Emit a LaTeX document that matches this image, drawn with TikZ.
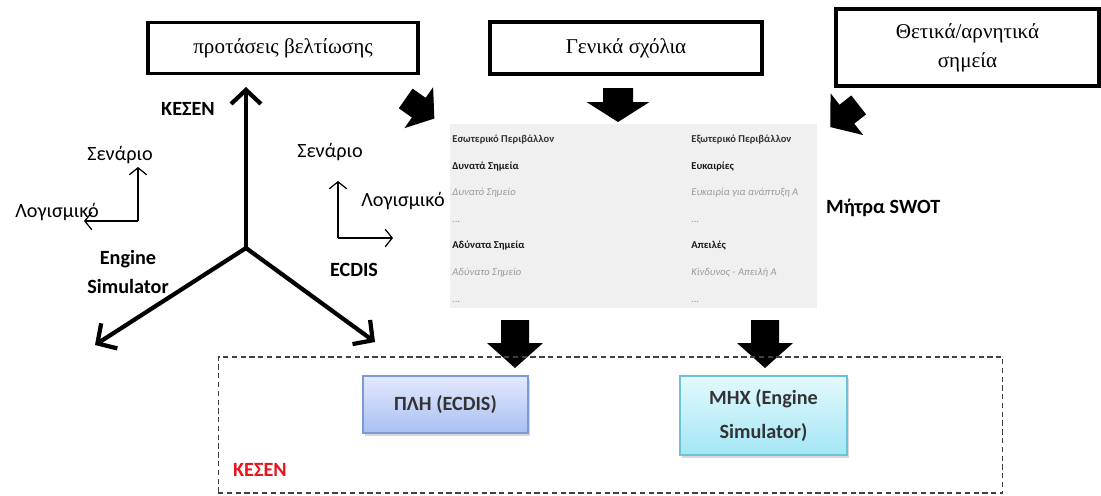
\documentclass[tikz,border=0pt]{standalone}
\usepackage{fontspec}
\setmainfont{Liberation Serif}
\newfontfamily\carlito{Carlito}
\usepackage{xcolor}
\usetikzlibrary{arrows.meta,shadows}

\definecolor{plhtop}{HTML}{E2E9FC}
\definecolor{plhbot}{HTML}{A9C0F2}
\definecolor{plhline}{HTML}{7D9AD6}
\definecolor{mhxtop}{HTML}{E3F9FD}
\definecolor{mhxbot}{HTML}{A3E6F4}
\definecolor{mhxline}{HTML}{6CC3D8}
\definecolor{kesenred}{HTML}{E8131B}

% fat arrow: centre, angle, length, shaft, head width, head length
\newcommand{\blockarrow}[6]{%
	\fill[black, shift={(#1)}, rotate=#2]
		(-#3/2,-#4/2) -- (#3/2-#6,-#4/2) -- (#3/2-#6,-#5/2) -- (#3/2,0)
		-- (#3/2-#6,#5/2) -- (#3/2-#6,#4/2) -- (-#3/2,#4/2) -- cycle;
}

\tikzset{
	topbox/.style = {draw, line width=1.8pt, align=center, font=\fontsize{12}{16.5}\selectfont},
	lbl/.style = {font=\carlito\fontsize{11.5}{13}\selectfont, inner sep=1pt},
	blbl/.style = {font=\carlito\bfseries\fontsize{11.5}{17}\selectfont, inner sep=1pt, align=center},
	bigaxis/.style = {line width=2.4pt, -{Straight Barb[length=8pt,width=17pt]}},
	smallaxis/.style = {line width=0.7pt, -{Straight Barb[length=4pt,width=10pt]}},
	swothead/.style = {anchor=west, inner sep=0pt, text=black!80, font=\carlito\bfseries\fontsize{6}{7}\selectfont},
	swotitem/.style = {anchor=west, inner sep=0pt, text=black!40, font=\carlito\itshape\fontsize{6}{7}\selectfont},
	unitbox/.style = {draw, line width=0.8pt, align=center, font=\carlito\bfseries\fontsize{11.5}{19}\selectfont, text=black!80,
		drop shadow={shadow xshift=1pt, shadow yshift=-1.5pt, opacity=0.3}},
}

\begin{document}
\begin{tikzpicture}[x=0.02cm, y=-0.02cm]
	\useasboundingbox (0,0) rectangle (1101,495);

	% top boxes
	\node[topbox, minimum width=5.4cm, minimum height=1.02cm] (improve) at (283,48) {προτάσεις βελτίωσης};
	\node[topbox, minimum width=5.44cm, minimum height=1.04cm] (general) at (626,48) {Γενικά σχόλια};
	\node[topbox, minimum width=5.26cm, minimum height=1.54cm] (posneg) at (967.5,47.5) {Θετικά/αρνητικά\\σημεία};

	% three axes
	\coordinate (origin) at (246,248);
	\coordinate (kesentip) at (246,87);
	\coordinate (enginetip) at (95,345);
	\coordinate (ecdistip) at (375,342);
	\draw[bigaxis] (origin) -- (kesentip);
	\draw[bigaxis] (origin) -- (enginetip);
	\draw[bigaxis] (origin) -- (ecdistip);
	\node[blbl] (kesen) at (188,109) {ΚΕΣΕΝ};
	\node[blbl] (engine) at (128,272) {Engine\\Simulator};
	\node[blbl] (ecdis) at (354,270) {ECDIS};

	% small axes, left
	\coordinate (lc) at (138,221);
	\coordinate (lcup) at (138,167);
	\coordinate (lcleft) at (84,221);
	\draw[smallaxis] (lc) -- (lcup);
	\draw[smallaxis] (lc) -- (lcleft);
	\node[lbl] (scenleft) at (120,155) {Σενάριο};
	\node[lbl] (softleft) at (57,212) {Λογισμικό};

	% small axes, right
	\coordinate (rc) at (338,238);
	\coordinate (rcup) at (338,181);
	\coordinate (rcright) at (393,238);
	\draw[smallaxis] (rc) -- (rcup);
	\draw[smallaxis] (rc) -- (rcright);
	\node[lbl] (scenright) at (330,152) {Σενάριο};
	\node[lbl] (softright) at (403,201) {Λογισμικό};

	% swot table
	\node[fill=gray!12, minimum width=7.34cm, minimum height=3.68cm, inner sep=0pt] (swot) at (633.5,216) {};
	\node[swothead] (inenv) at (452,140) {Εσωτερικό Περιβάλλον};
	\node[swothead, text=black!90] (str) at (452,167) {Δυνατά Σημεία};
	\node[swotitem] (stra) at (452,193) {Δυνατό Σημείο};
	\node[swotitem] (strb) at (452,222) {...};
	\node[swothead, text=black!90] (weak) at (452,246) {Αδύνατα Σημεία};
	\node[swotitem] (weaka) at (452,273) {Αδύνατο Σημείο};
	\node[swotitem] (weakb) at (452,302) {...};
	\node[swothead] (exenv) at (691,140) {Εξωτερικό Περιβάλλον};
	\node[swothead, text=black!90] (opp) at (691,167) {Ευκαιρίες};
	\node[swotitem] (oppa) at (691,193) {Ευκαιρία για ανάπτυξη Α};
	\node[swotitem] (oppb) at (691,222) {...};
	\node[swothead, text=black!90] (thr) at (691,246) {Απειλές};
	\node[swotitem] (thra) at (691,273) {Κίνδυνος - Απειλή Α};
	\node[swotitem] (thrb) at (691,302) {...};
	\node[blbl, anchor=west] (swotlbl) at (824,208) {Μήτρα SWOT};

	% fat arrows
	\blockarrow{420,108.5}{-35}{35}{24}{50}{19}
	\blockarrow{618,105}{-90}{34}{30}{63}{20}
	\blockarrow{844.5,116}{-142}{36}{24}{53}{21}
	\blockarrow{515,344}{-90}{48}{28}{56}{25}
	\blockarrow{765,344}{-90}{48}{28}{56}{25}

	% units
	\node[draw=black!75, dashed, dash pattern=on 3pt off 2pt, line width=0.6pt,
		minimum width=15.7cm, minimum height=2.72cm] (frame) at (610.5,425) {};
	\node[unitbox, draw=plhline, top color=plhtop, bottom color=plhbot,
		minimum width=3.3cm, minimum height=1.14cm] (plh) at (445.5,404.5) {ΠΛΗ (ECDIS)};
	\node[unitbox, draw=mhxline, top color=mhxtop, bottom color=mhxbot,
		minimum width=3.34cm, minimum height=1.58cm] (mhx) at (763.5,415.5) {ΜΗΧ (Engine\\Simulator)};
	\node[blbl, anchor=west, text=kesenred] (kesenunit) at (231,470) {ΚΕΣΕΝ};
\end{tikzpicture}
\end{document}
